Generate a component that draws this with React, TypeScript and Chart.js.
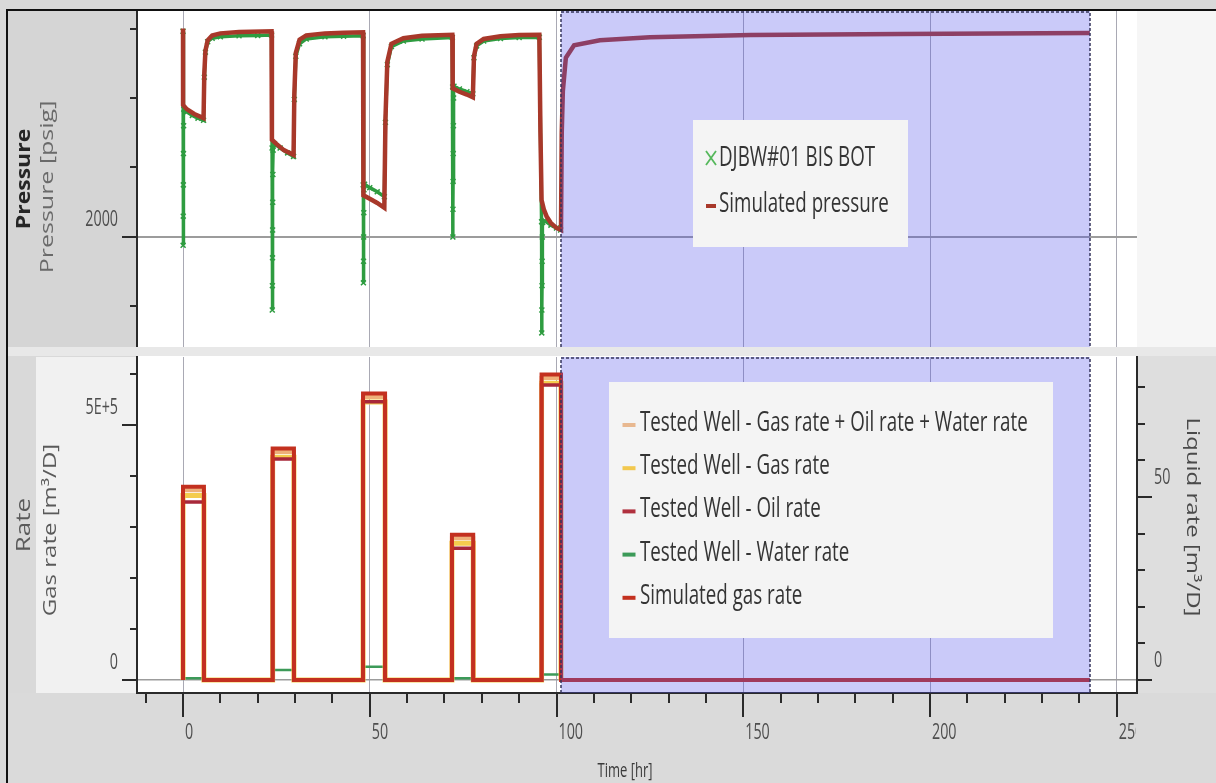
import { useEffect, useRef } from 'react';
import { Chart, registerables } from 'chart.js';

Chart.register(...registerables);

// ---------------------------------------------------------------------------
// Well test record (time in hr)
// ---------------------------------------------------------------------------

// Simulated bottom-hole pressure [hr, psig]
const simulatedPressure: [number, number][] = [
  [0, 2300], [0.02, 2190], [1, 2184], [3, 2177], [5.5, 2171],
  [5.7, 2235], [6.0, 2268], [6.6, 2283], [7.8, 2290], [10, 2293], [15, 2295], [23.7, 2296],
  [23.8, 2140], [25, 2134], [27, 2125], [29.6, 2118],
  [29.8, 2205], [30.2, 2265], [31.2, 2284], [33, 2290], [38, 2293], [43, 2294], [48.2, 2294.5],
  [48.3, 2060], [50, 2055], [52, 2049], [53.9, 2042],
  [54.2, 2170], [54.7, 2252], [55.8, 2278], [59, 2286], [64, 2289.5], [72.1, 2291],
  [72.2, 2214], [74, 2209], [76, 2205], [77.6, 2201],
  [77.9, 2260], [78.6, 2278], [80.5, 2285], [85, 2289], [90, 2290.5], [95.4, 2291],
  [95.7, 2150], [96.0, 2053], [96.6, 2040], [97.4, 2029], [98.5, 2020], [100, 2013], [101.2, 2010],
  [101.4, 2150], [101.7, 2210], [102.5, 2258], [104.7, 2276], [111.6, 2283], [125, 2287.5],
  [152, 2290.5], [192, 2292], [242.8, 2293.5],
];

// Gauge record DJBW#01 BIS BOT [hr, psig]
const gaugePressure: [number, number][] = [
  [0, 2296], [0.03, 1988], [0.06, 2030], [0.09, 2075], [0.12, 2120], [0.16, 2160], [0.22, 2184],
  [1, 2180], [2.5, 2175], [4, 2171], [5.5, 2168],
  [5.7, 2230], [6.0, 2266], [6.6, 2281], [7.8, 2286], [10, 2288], [15, 2289.5], [20, 2290], [23.7, 2290.5],
  [23.85, 2128], [23.9, 1895], [23.93, 1930], [23.96, 1970], [23.99, 2010], [24.02, 2050], [24.06, 2090],
  [24.12, 2125], [24.5, 2134], [26, 2128], [28, 2121], [29.6, 2116],
  [29.8, 2198], [30.2, 2260], [31.2, 2278], [33, 2285], [38, 2288], [43, 2289], [48.2, 2289.5],
  [48.25, 2075], [48.3, 1934], [48.33, 1965], [48.36, 2000], [48.4, 2035], [48.45, 2068], [48.6, 2076],
  [50, 2071], [52, 2065], [53.9, 2058],
  [54.2, 2165], [54.7, 2248], [55.8, 2274], [59, 2282], [64, 2285], [72.1, 2287],
  [72.2, 2216], [72.25, 2000], [72.28, 2040], [72.31, 2080], [72.35, 2120], [72.4, 2160], [72.45, 2200],
  [72.55, 2217], [74, 2213], [76, 2209], [77.6, 2206],
  [77.9, 2258], [78.6, 2275], [80.5, 2282], [85, 2285.5], [90, 2287], [95.4, 2287.5],
  [96.0, 2022], [96.05, 1862], [96.08, 1895], [96.12, 1930], [96.16, 1965], [96.2, 2000], [96.3, 2021],
  [97, 2023], [98.5, 2017], [100, 2013], [101.1, 2010],
];

// Flow periods [hr]
const flowStart = [0, 24.0, 48.2, 72.0, 96.0];
const flowEnd = [5.6, 29.7, 54.1, 77.7, 101.2];
const simulationEnd = 242.8;

// Rates per flow period
const simulatedGasRate = [379000, 454000, 562000, 285000, 599000]; // m3/D
const testedTotalRate = [372000, 447000, 555000, 278000, 592000]; // m3/D
const testedGasRate = [362000, 437000, 545000, 268000, 582000]; // m3/D
const testedOilRate = [48.6, 60.4, 76.0, 36.0, 80.6]; // m3/D (liquid)
const testedWaterRate = [0.5, 2.7, 3.6, 0.5, 1.5]; // m3/D (liquid)

// Highlighted simulation window [hr]
const selectionWindow = [101.3, 242.8];

// Axis limits and tick values
const timeLimits = [-12.32, 255.42];
const pressureLimits = [1841.7, 2325.2];
const gasRateLimits = [-25490, 633333];
const liquidRateLimits = [-3.55, 88.25];

const timeTickValues = [-10, 0, 10, 20, 30, 40, 50, 60, 70, 80, 90, 100, 110, 120, 130, 140, 150, 160, 170, 180, 190, 200, 210, 220, 230, 240, 250];
const pressureTickValues = [1900, 2000, 2100, 2200, 2300];
const gasRateTickValues = [0, 100000, 200000, 300000, 400000, 500000, 600000];
const liquidRateTickValues = [0, 10, 20, 30, 40, 50, 60, 70, 80];

const timeLabelEvery = 50;
const pressureLabelEvery = 1000;
const gasRateLabelEvery = 500000;
const liquidRateLabelEvery = 50;

// ---------------------------------------------------------------------------
// Styling
// ---------------------------------------------------------------------------
const FONT = "'Open Sans', 'Noto Sans', sans-serif";
const SQUEEZE = 0.65;
const AXIS_COLOR = '#2a2a2a';
const GRID_COLOR = '#a9a9b4';
const ZERO_LINE = '#9c9c9c';
const TICK_TEXT = '#4e4e4e';
const SELECT_FILL = 'rgba(80, 80, 235, 0.30)';
const SELECT_EDGE = '#34345c';

const C_SIM_PRESSURE = '#a8382a';
const C_GAUGE = '#2e9c40';
const C_SIM_GAS = '#c3301f';
const C_TOTAL = '#eeb079';
const C_GAS = '#f4cc4e';
const C_OIL = '#a8283a';
const C_WATER = '#3c9a58';

type Pt = { x: number; y: number };
const toPoints = (pairs: [number, number][]): Pt[] => pairs.map(([x, y]) => ({ x, y }));

function stepProfile(values: number[], tail?: number): Pt[] {
  const pts: Pt[] = [];
  values.forEach((v, i) => {
    pts.push({ x: flowStart[i], y: 0 }, { x: flowStart[i], y: v }, { x: flowEnd[i], y: v }, { x: flowEnd[i], y: 0 });
  });
  if (tail !== undefined) pts.push({ x: tail, y: 0 });
  return pts;
}

const isMultiple = (v: number, m: number) => Math.abs(v / m - Math.round(v / m)) < 1e-6;
const fixedTicks = (values: number[]) => (s: any) => {
  s.ticks = values.map((value) => ({ value }));
};

type TextItem = {
  text: string;
  x: number;
  y: number;
  size: number;
  color: string;
  weight?: string;
  rot?: number;
  squeeze?: number;
  align?: CanvasTextAlign;
};

function paintText(ctx: CanvasRenderingContext2D, t: TextItem) {
  ctx.save();
  ctx.translate(t.x, t.y);
  ctx.scale(t.squeeze ?? SQUEEZE, 1);
  if (t.rot) ctx.rotate(t.rot);
  ctx.font = `${t.weight ?? 'normal'} ${t.size}px ${FONT}`;
  ctx.fillStyle = t.color;
  ctx.textAlign = t.align ?? 'center';
  ctx.textBaseline = 'middle';
  ctx.fillText(t.text, 0, 0);
  ctx.restore();
}

type AxisDecor = {
  scaleId: string;
  side: 'left' | 'right' | 'bottom';
  labelEvery: number;
  longTick: number;
  shortTick: number;
  format: (v: number) => string;
  gap: number;
  shift: number;
  size: number;
  clipRight?: number;
};

// Tick marks (long on labelled values) and narrow tick labels
function axisDecorPlugin(id: string, decors: AxisDecor[]) {
  return {
    id,
    afterDraw(chart: any) {
      const ctx: CanvasRenderingContext2D = chart.ctx;
      decors.forEach((d) => {
        const s = chart.scales[d.scaleId];
        ctx.save();
        ctx.strokeStyle = AXIS_COLOR;
        ctx.lineWidth = 2;
        s.ticks.forEach((tk: any) => {
          const p = Math.round(s.getPixelForValue(tk.value));
          const len = isMultiple(tk.value, d.labelEvery) ? d.longTick : d.shortTick;
          ctx.beginPath();
          if (d.side === 'left') {
            ctx.moveTo(s.right - len, p);
            ctx.lineTo(s.right, p);
          } else if (d.side === 'right') {
            ctx.moveTo(s.left, p);
            ctx.lineTo(s.left + len, p);
          } else {
            ctx.moveTo(p, s.top);
            ctx.lineTo(p, s.top + len);
          }
          ctx.stroke();
        });
        ctx.restore();

        ctx.save();
        if (d.clipRight !== undefined) {
          ctx.beginPath();
          ctx.rect(0, 0, chart.chartArea.right + d.clipRight, chart.height);
          ctx.clip();
        }
        s.ticks.forEach((tk: any) => {
          if (!isMultiple(tk.value, d.labelEvery)) return;
          const text = d.format(tk.value);
          const p = s.getPixelForValue(tk.value);
          if (d.side === 'left') {
            paintText(ctx, { text, x: s.right - d.gap, y: p + d.shift, size: d.size, color: TICK_TEXT, align: 'right' });
          } else if (d.side === 'right') {
            paintText(ctx, { text, x: s.left + d.gap, y: p + d.shift, size: d.size, color: TICK_TEXT, align: 'left' });
          } else {
            paintText(ctx, { text, x: p + d.shift, y: s.top + d.gap, size: d.size, color: TICK_TEXT, align: 'left' });
          }
        });
        ctx.restore();
      });
    },
  };
}

// Translucent highlight of the simulation window, drawn over the curves
function selectionPlugin(id: string) {
  return {
    id,
    afterDatasetsDraw(chart: any) {
      const { ctx, chartArea: a } = chart;
      const xs = chart.scales.x;
      const x0 = Math.round(xs.getPixelForValue(selectionWindow[0]));
      const x1 = Math.round(xs.getPixelForValue(selectionWindow[1]));
      ctx.save();
      ctx.fillStyle = SELECT_FILL;
      ctx.fillRect(x0, a.top, x1 - x0, a.bottom - a.top);
      ctx.strokeStyle = SELECT_EDGE;
      ctx.lineWidth = 1.5;
      ctx.setLineDash([3, 2]);
      ctx.beginPath();
      ctx.moveTo(x0, a.bottom);
      ctx.lineTo(x0, a.top + 1);
      ctx.lineTo(x1, a.top + 1);
      ctx.lineTo(x1, a.bottom);
      ctx.stroke();
      ctx.restore();
    },
  };
}

function textPlugin(id: string, items: TextItem[]) {
  return {
    id,
    afterDraw(chart: any) {
      items.forEach((t) => paintText(chart.ctx, t));
    },
  };
}

type LegendEntry = { label: string; color: string; marker: 'cross' | 'dash' };
type LegendLayout = { x: number; y: number; w: number; h: number; firstRow: number; rowGap: number; markerX: number; textX: number; dash: number };

function legendPlugin(id: string, layout: LegendLayout, entries: LegendEntry[]) {
  return {
    id,
    afterDraw(chart: any) {
      const ctx: CanvasRenderingContext2D = chart.ctx;
      ctx.save();
      ctx.fillStyle = '#f4f4f4';
      ctx.fillRect(layout.x, layout.y, layout.w, layout.h);
      entries.forEach((e, i) => {
        const y = layout.firstRow + i * layout.rowGap;
        if (e.marker === 'cross') {
          ctx.strokeStyle = e.color;
          ctx.lineWidth = 1.8;
          ctx.beginPath();
          ctx.moveTo(layout.markerX - 5, y - 7);
          ctx.lineTo(layout.markerX + 5, y + 7);
          ctx.moveTo(layout.markerX + 5, y - 7);
          ctx.lineTo(layout.markerX - 5, y + 7);
          ctx.stroke();
        } else {
          ctx.fillStyle = e.color;
          ctx.fillRect(layout.markerX - layout.dash / 2, y, layout.dash, 4);
        }
        paintText(ctx, { text: e.label, x: layout.textX, y, size: 28, color: '#343434', align: 'left', squeeze: 0.67 });
      });
      ctx.restore();
    },
  };
}

const timeScale = (showLabels: boolean) => ({
  type: 'linear' as const,
  min: timeLimits[0],
  max: timeLimits[1],
  afterBuildTicks: fixedTicks(timeTickValues),
  ticks: { display: false, autoSkip: false },
  grid: {
    drawTicks: false,
    lineWidth: 1,
    color: (c: any) => (c.tick && isMultiple(c.tick.value, timeLabelEvery) ? GRID_COLOR : 'rgba(0,0,0,0)'),
  },
  border: showLabels ? { display: true, color: AXIS_COLOR, width: 2 } : { display: false },
  afterFit: (s: any) => {
    s.height = showLabels ? 90 : 0;
  },
});

export default function App() {
  const topRef = useRef<HTMLCanvasElement>(null);
  const bottomRef = useRef<HTMLCanvasElement>(null);

  useEffect(() => {
    const top = new Chart(topRef.current as HTMLCanvasElement, {
      type: 'line',
      data: {
        datasets: [
          {
            label: 'Simulated pressure',
            data: toPoints(simulatedPressure),
            borderColor: C_SIM_PRESSURE,
            borderWidth: 4.5,
            pointRadius: 0,
            tension: 0,
          },
          {
            label: 'DJBW#01 BIS BOT',
            data: toPoints(gaugePressure),
            borderColor: C_GAUGE,
            borderWidth: 3.5,
            pointStyle: 'crossRot',
            pointRadius: 3.5,
            pointBorderColor: C_GAUGE,
            pointBorderWidth: 1.5,
            tension: 0,
          },
        ] as any,
      },
      options: {
        animation: false,
        responsive: false,
        devicePixelRatio: 1,
        events: [],
        layout: { padding: { left: 0, right: 79, top: 0, bottom: 0 }, autoPadding: false },
        plugins: { legend: { display: false }, tooltip: { enabled: false } },
        scales: {
          x: timeScale(false),
          y: {
            type: 'linear',
            position: 'left',
            min: pressureLimits[0],
            max: pressureLimits[1],
            afterBuildTicks: fixedTicks(pressureTickValues),
            ticks: { display: false, autoSkip: false },
            grid: {
              drawTicks: false,
              lineWidth: 2,
              color: (c: any) => (c.tick && isMultiple(c.tick.value, pressureLabelEvery) ? ZERO_LINE : 'rgba(0,0,0,0)'),
            },
            border: { color: AXIS_COLOR, width: 2 },
            afterFit: (s: any) => {
              s.width = 128;
            },
          },
        } as any,
      },
      plugins: [
        selectionPlugin('topSelection'),
        axisDecorPlugin('topAxes', [
          {
            scaleId: 'y',
            side: 'left',
            labelEvery: pressureLabelEvery,
            longTick: 15,
            shortTick: 7,
            format: (v) => String(v),
            gap: 19,
            shift: -17,
            size: 22,
          },
        ]),
        textPlugin('topTitles', [
          { text: 'Pressure', x: 15, y: 168, size: 23, weight: 'bold', color: '#262626', rot: -Math.PI / 2, squeeze: 0.85 },
          { text: 'Pressure [psig]', x: 39, y: 176, size: 25, color: '#6a6a6a', rot: -Math.PI / 2, squeeze: 0.75 },
        ]),
        legendPlugin(
          'topLegend',
          { x: 684, y: 109, w: 215, h: 127, firstRow: 147, rowGap: 46, markerX: 702, textX: 710, dash: 10 },
          [
            { label: 'DJBW#01 BIS BOT', color: '#56b85c', marker: 'cross' },
            { label: 'Simulated pressure', color: C_SIM_PRESSURE, marker: 'dash' },
          ],
        ),
      ],
    });

    const bottom = new Chart(bottomRef.current as HTMLCanvasElement, {
      type: 'line',
      data: {
        datasets: [
          {
            label: 'Simulated gas rate',
            data: stepProfile(simulatedGasRate, simulationEnd),
            yAxisID: 'gas',
            borderColor: C_SIM_GAS,
            borderWidth: 4,
          },
          {
            label: 'Tested Well - Oil rate',
            data: stepProfile(testedOilRate),
            yAxisID: 'liquid',
            borderColor: C_OIL,
            borderWidth: 3.5,
          },
          {
            label: 'Tested Well - Gas rate + Oil rate + Water rate',
            data: stepProfile(testedTotalRate),
            yAxisID: 'gas',
            borderColor: C_TOTAL,
            borderWidth: 4,
          },
          {
            label: 'Tested Well - Gas rate',
            data: stepProfile(testedGasRate),
            yAxisID: 'gas',
            borderColor: C_GAS,
            borderWidth: 5,
          },
          {
            label: 'Tested Well - Water rate',
            data: stepProfile(testedWaterRate),
            yAxisID: 'liquid',
            borderColor: C_WATER,
            borderWidth: 2.5,
          },
        ].map((d) => ({ ...d, pointRadius: 0, tension: 0 })) as any,
      },
      options: {
        animation: false,
        responsive: false,
        devicePixelRatio: 1,
        events: [],
        layout: { padding: { left: 0, right: 0, top: 2, bottom: 0 }, autoPadding: false },
        plugins: { legend: { display: false }, tooltip: { enabled: false } },
        scales: {
          x: timeScale(true),
          gas: {
            type: 'linear',
            position: 'left',
            min: gasRateLimits[0],
            max: gasRateLimits[1],
            afterBuildTicks: fixedTicks(gasRateTickValues),
            ticks: { display: false, autoSkip: false },
            grid: {
              drawTicks: false,
              lineWidth: 1.5,
              color: (c: any) => (c.tick && c.tick.value === 0 ? ZERO_LINE : 'rgba(0,0,0,0)'),
            },
            border: { color: AXIS_COLOR, width: 2 },
            afterFit: (s: any) => {
              s.width = 128;
            },
          },
          liquid: {
            type: 'linear',
            position: 'right',
            min: liquidRateLimits[0],
            max: liquidRateLimits[1],
            afterBuildTicks: fixedTicks(liquidRateTickValues),
            ticks: { display: false, autoSkip: false },
            grid: { display: false, drawOnChartArea: false },
            border: { color: AXIS_COLOR, width: 2 },
            afterFit: (s: any) => {
              s.width = 79;
            },
          },
        } as any,
      },
      plugins: [
        selectionPlugin('bottomSelection'),
        axisDecorPlugin('bottomAxes', [
          {
            scaleId: 'gas',
            side: 'left',
            labelEvery: gasRateLabelEvery,
            longTick: 15,
            shortTick: 7,
            format: (v) => (v === 0 ? '0' : `${v / 100000}E+5`),
            gap: 19,
            shift: -17,
            size: 22,
          },
          {
            scaleId: 'liquid',
            side: 'right',
            labelEvery: liquidRateLabelEvery,
            longTick: 15,
            shortTick: 8,
            format: (v) => String(v),
            gap: 17,
            shift: -19,
            size: 22,
          },
          {
            scaleId: 'x',
            side: 'bottom',
            labelEvery: timeLabelEvery,
            longTick: 24,
            shortTick: 10,
            format: (v) => String(v),
            gap: 40,
            shift: 2,
            size: 22,
            clipRight: -1,
          },
        ]),
        textPlugin('bottomTitles', [
          { text: 'Rate', x: 15, y: 170, size: 26, color: '#5a5a5a', rot: -Math.PI / 2, squeeze: 0.75 },
          { text: 'Gas rate [m³/D]', x: 42, y: 175, size: 24, color: '#5a5a5a', rot: -Math.PI / 2, squeeze: 0.75 },
          { text: 'Liquid rate [m³/D]', x: 1183, y: 162, size: 24, color: '#4a4a4a', rot: Math.PI / 2, squeeze: 0.75 },
          { text: 'Time [hr]', x: 616, y: 416, size: 20, color: '#3a3a3a' },
        ]),
        legendPlugin(
          'bottomLegend',
          { x: 600, y: 27, w: 444, h: 256, firstRow: 68, rowGap: 43.2, markerX: 620, textX: 631, dash: 13 },
          [
            { label: 'Tested Well - Gas rate + Oil rate + Water rate', color: '#e8b890', marker: 'dash' },
            { label: 'Tested Well - Gas rate', color: '#f2c84e', marker: 'dash' },
            { label: 'Tested Well - Oil rate', color: '#b0303e', marker: 'dash' },
            { label: 'Tested Well - Water rate', color: C_WATER, marker: 'dash' },
            { label: 'Simulated gas rate', color: C_SIM_GAS, marker: 'dash' },
          ],
        ),
      ],
    });

    return () => {
      top.destroy();
      bottom.destroy();
    };
  }, []);

  const box = (left: number, top: number, width: number, height: number, background: string) => (
    <div style={{ position: 'absolute', left, top, width, height, background }} />
  );

  return (
    <div style={{ position: 'absolute', left: 0, top: 0, width: 1216, height: 783, background: '#d9d9d9', overflow: 'hidden' }}>
      {box(8, 11, 129, 336, '#d5d5d5')}
      {box(137, 11, 1000, 336, '#ffffff')}
      {box(1137, 11, 79, 336, '#f6f6f6')}
      {box(8, 347, 1208, 9, '#e8e8e8')}
      {box(8, 356, 129, 337, '#d9d9d9')}
      {box(36, 357, 101, 336, '#f1f1f1')}
      {box(137, 356, 1000, 337, '#ffffff')}
      {box(1137, 356, 79, 337, '#dedede')}
      {box(8, 693, 1208, 90, '#dadada')}
      {box(6, 9, 1210, 2, '#111111')}
      {box(6, 9, 2, 774, '#111111')}
      <canvas ref={topRef} width={1207} height={336} style={{ position: 'absolute', left: 9, top: 11 }} />
      <canvas ref={bottomRef} width={1207} height={428} style={{ position: 'absolute', left: 9, top: 355 }} />
    </div>
  );
}
